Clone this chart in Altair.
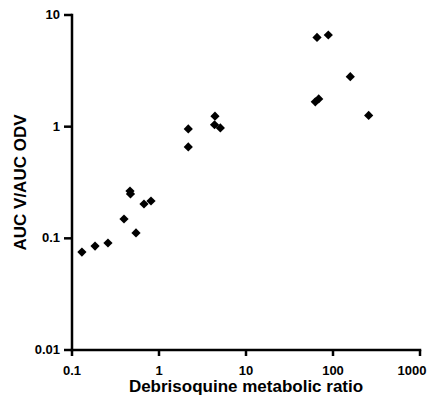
import altair as alt
import pandas as pd

ratio = [0.130, 0.184, 0.259, 0.396, 0.544, 0.464, 0.470, 0.672, 0.809,
         2.17, 2.17, 4.40, 4.35, 5.07, 65.5, 88.3, 158, 62.6, 68.5, 257]
auc = [0.0754, 0.0853, 0.0908, 0.149, 0.1117, 0.265, 0.25, 0.203, 0.216,
       0.955, 0.659, 1.24, 1.04, 0.975, 6.29, 6.62, 2.80, 1.67, 1.77, 1.26]

x_ticks = [0.1, 1, 10, 100, 1000]
x_tick_labels = ["0.1", "1", "10", "100", "1000"]
y_ticks = [0.01, 0.1, 1, 10]
y_tick_labels = ["0.01", "0.1", "1", "10"]
x_title = "Debrisoquine metabolic ratio"
y_title = "AUC V/AUC ODV"

W, H = 348, 335
FONT = "Liberation Sans"

df = pd.DataFrame({"ratio": ratio, "auc": auc})
xt = pd.DataFrame({"ratio": x_ticks, "label": x_tick_labels})
yt = pd.DataFrame({"auc": y_ticks, "label": y_tick_labels})

xscale = alt.Scale(type="log", domain=[0.1, 1000])
yscale = alt.Scale(type="log", domain=[0.01, 10])
X = alt.X("ratio:Q", scale=xscale, axis=None)
Y = alt.Y("auc:Q", scale=yscale, axis=None)

points = alt.Chart(df).mark_point(
    shape="diamond", filled=True, color="black", size=85, opacity=1
).encode(x=X, y=Y)

rule_style = dict(color="black", strokeWidth=2.5, strokeCap="square")
one = alt.Data(values=[{}])

x_axis_line = alt.Chart(one).mark_rule(**rule_style).encode(
    x=alt.value(0), x2=alt.value(W), y=alt.value(H))
y_axis_line = alt.Chart(one).mark_rule(**rule_style).encode(
    x=alt.value(0), y=alt.value(0), y2=alt.value(H))

x_tick_marks = alt.Chart(xt).mark_rule(color="black", strokeWidth=2.5).encode(
    x=X, y=alt.value(H), y2=alt.value(H + 6))
y_tick_marks = alt.Chart(yt).mark_rule(color="black", strokeWidth=2.5).encode(
    y=Y, x=alt.value(-8), x2=alt.value(0))

label_style = dict(font=FONT, fontWeight="bold", fontSize=13, color="black")

x_labels = alt.Chart(xt).transform_filter("datum.ratio < 1000").mark_text(
    align="center", baseline="alphabetic", **label_style
).encode(x=X, y=alt.value(H + 25), text="label:N")
x_label_last = alt.Chart(xt).transform_filter("datum.ratio >= 1000").mark_text(
    align="center", baseline="alphabetic", dx=-8, **label_style
).encode(x=X, y=alt.value(H + 25), text="label:N")

y_labels = alt.Chart(yt).mark_text(
    align="right", baseline="middle", **label_style
).encode(y=Y, x=alt.value(-12), text="label:N")

title_style = dict(font=FONT, fontWeight="bold", fontSize=17, color="black")

x_title_mark = alt.Chart(one).mark_text(
    align="center", baseline="alphabetic", text=x_title, **title_style
).encode(x=alt.value(W / 2), y=alt.value(H + 42))
y_title_mark = alt.Chart(one).mark_text(
    align="center", baseline="middle", angle=270, text=y_title, **title_style
).encode(x=alt.value(-51), y=alt.value(H / 2))

chart = alt.layer(
    points, x_tick_marks, y_tick_marks, x_axis_line, y_axis_line,
    x_labels, x_label_last, y_labels, x_title_mark, y_title_mark
).properties(
    width=W,
    height=H,
    autosize=alt.AutoSizeParams(type="none"),
    padding={"left": 64, "top": 7, "right": 8, "bottom": 47},
).configure_view(stroke=None)

chart.save("out.html", embed_options={"renderer": "svg", "actions": False})
